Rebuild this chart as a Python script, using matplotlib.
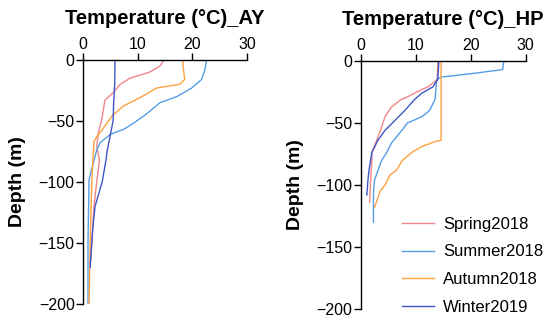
import matplotlib.pyplot as plt

plt.rcParams["font.family"] = ["Liberation Sans", "DejaVu Sans"]

SEASONS = ["Spring2018", "Summer2018", "Autumn2018", "Winter2019"]
COLORS = ["#f0868a", "#559de6", "#ffa040", "#3f55c6"]

# AY site: temperature (°C) and depth (m) per season
ay_spring_t = [14.8, 14.1, 12.2, 8.6, 6.8, 5.5, 4.0, 3.5, 2.8, 2.5, 3.0, 2.5, 2.0, 1.6, 1.4]
ay_spring_d = [0, -5, -10, -15, -20, -27, -33, -47, -60, -71, -82, -100, -120, -150, -165]
ay_summer_t = [22.6, 22.3, 21.7, 19.9, 17.2, 14.1, 11.7, 9.2, 7.4, 5.0, 3.1, 2.5, 2.2, 1.1, 0.9, 0.9]
ay_summer_d = [0, -8, -16, -23, -30, -35, -44, -52, -57, -61, -68, -74, -79, -98, -150, -200]
ay_autumn_t = [18.3, 18.3, 18.6, 17.7, 13.5, 12.0, 10.4, 7.3, 5.3, 3.7, 2.5, 2.0, 1.8, 1.6, 1.3, 1.1]
ay_autumn_d = [0, -5, -16, -20, -23, -27, -31, -38, -46, -56, -63, -67, -82, -100, -150, -200]
ay_winter_t = [5.85, 5.8, 5.6, 5.5, 4.4, 4.2, 3.5, 2.2, 1.8, 1.6, 1.3]
ay_winter_d = [0, -20, -35, -50, -75, -82, -100, -120, -137, -150, -170]

# HP site
hp_spring_t = [14.0, 13.9, 12.2, 11.1, 8.5, 7.4, 5.6, 4.4, 3.8, 2.9, 2.0, 2.0, 1.8, 1.6]
hp_spring_d = [0, -15, -21, -23, -29, -31, -37, -45, -53, -64, -74, -80, -96, -114]
hp_summer_t = [26.0, 25.8, 20.7, 14.7, 13.8, 13.5, 12.5, 11.1, 8.5, 7.1, 5.6, 4.7, 3.8, 2.5, 2.3, 2.3, 2.3]
hp_summer_d = [0, -7, -10, -13, -15, -31, -40, -45, -50, -58, -66, -74, -80, -96, -107, -118, -130]
hp_autumn_t = [14.6, 14.6, 13.5, 11.1, 9.5, 8.4, 7.6, 6.5, 5.3, 4.4, 3.5, 3.3, 2.5]
hp_autumn_d = [0, -64, -65, -69, -73, -77, -80, -88, -92, -100, -105, -108, -118]
hp_winter_t = [14.2, 14.0, 13.1, 11.1, 9.8, 8.0, 6.2, 4.4, 3.1, 2.0, 1.5, 1.3, 1.1]
hp_winter_d = [0, -15, -21, -26, -31, -40, -48, -56, -64, -74, -88, -96, -108]

AY = [(ay_spring_t, ay_spring_d), (ay_summer_t, ay_summer_d),
      (ay_autumn_t, ay_autumn_d), (ay_winter_t, ay_winter_d)]
HP = [(hp_spring_t, hp_spring_d), (hp_summer_t, hp_summer_d),
      (hp_autumn_t, hp_autumn_d), (hp_winter_t, hp_winter_d)]


def style(ax, title):
    ax.set_xlim(0, 30)
    ax.set_ylim(-200, 0)
    ax.set_xticks([0, 10, 20, 30])
    ax.set_yticks([0, -50, -100, -150, -200])
    ax.xaxis.tick_top()
    for s in ["right", "bottom"]:
        ax.spines[s].set_visible(False)
    for s in ["left", "top"]:
        ax.spines[s].set_linewidth(1.0)
    ax.tick_params(labelsize=11.5, length=5, width=1.0, pad=1)
    ax.set_title(title, fontsize=14.5, fontweight="bold", pad=26)
    ax.set_ylabel("Depth (m)", fontsize=14, fontweight="bold", labelpad=9)


fig = plt.figure(figsize=(5.5, 3.22), dpi=100)
ax1 = fig.add_axes([0.151, 0.056, 0.298, 0.758])
ax2 = fig.add_axes([0.656, 0.040, 0.300, 0.771])

for (t, d), c, lab in zip(AY, COLORS, SEASONS):
    ax1.plot(t, d, color=c, lw=1.0, label=lab)
for (t, d), c, lab in zip(HP, COLORS, SEASONS):
    ax2.plot(t, d, color=c, lw=1.0, label=lab)

style(ax1, "Temperature (°C)_AY")
style(ax2, "Temperature (°C)_HP")

ax2.legend(loc="lower left", bbox_to_anchor=(0.16, -0.083), frameon=False,
           fontsize=12, handlelength=1.9, handletextpad=0.55, labelspacing=0.76)

fig.savefig("out.png", dpi=100)
